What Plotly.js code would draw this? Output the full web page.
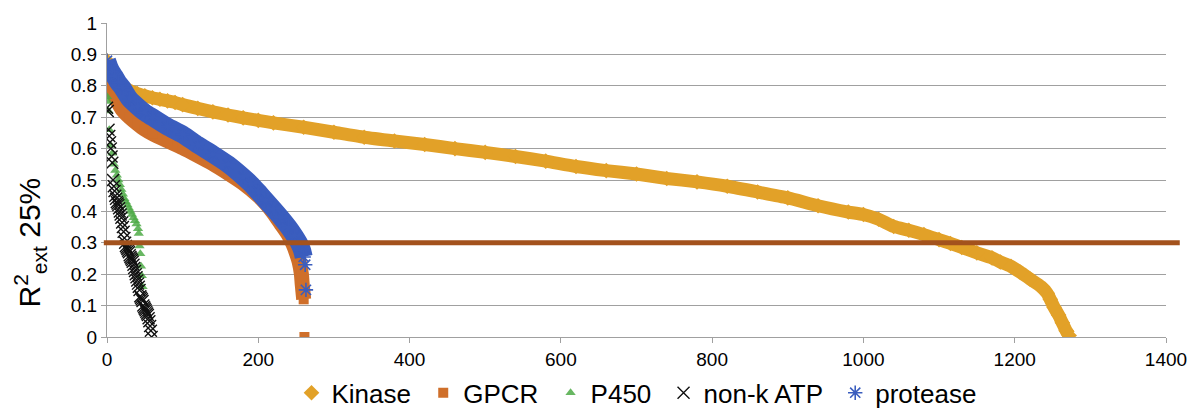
<!DOCTYPE html>
<html><head><meta charset="utf-8">
<script src="https://cdn.plot.ly/plotly-3.0.1.min.js"></script>
<style>html,body{margin:0;padding:0;background:#fff;}#chart{width:1187px;height:410px;}</style>
</head><body><div id="chart"></div>
<script>
// Series: rank (x) vs R2ext 25% (y)
const kinaseX = [0,3,6,10,15,20,30,40,50,60,70,80,90,100,120,140,160,180,200,220,260,300,340,380,420,460,500,540,580,620,660,700,740,780,820,860,900,940,980,1000,1020,1040,1060,1080,1100,1115,1130,1150,1170,1181,1195,1207,1220,1235,1243,1247,1252,1258,1263,1268,1272];
const kinaseY = [0.88,0.86,0.84,0.82,0.805,0.795,0.785,0.775,0.768,0.762,0.757,0.752,0.747,0.740,0.728,0.717,0.707,0.698,0.690,0.682,0.668,0.652,0.636,0.624,0.613,0.600,0.588,0.575,0.560,0.543,0.530,0.519,0.505,0.494,0.480,0.462,0.443,0.418,0.398,0.390,0.375,0.352,0.340,0.326,0.310,0.298,0.285,0.268,0.252,0.239,0.225,0.207,0.185,0.160,0.139,0.12,0.095,0.07,0.045,0.02,0.005];

const gpcrX = [0,3,6,10,15,20,30,40,50,60,80,100,120,140,160,180,200,210,220,230,240,246,250,254,257,258,259,260,261];
const gpcrY = [0.86,0.83,0.80,0.77,0.745,0.725,0.70,0.68,0.662,0.648,0.625,0.603,0.578,0.552,0.522,0.49,0.45,0.425,0.395,0.36,0.325,0.295,0.27,0.24,0.20,0.17,0.145,0.12,0.0];

const p450X = [0,1,2,3,5,7,9,11,13,15,17,19,21,23,25,27,29,31,33,35,37,39,41,42,43,44,45,46,47];
const p450Y = [0.765,0.75,0.72,0.66,0.61,0.585,0.55,0.53,0.515,0.50,0.485,0.47,0.455,0.44,0.43,0.42,0.41,0.40,0.39,0.38,0.37,0.36,0.345,0.33,0.29,0.265,0.225,0.195,0.16];

const atpX = [0,1,2,3,4,5,6,7,8,9,10,11,12,13,14,15,16,17,18,19,20,21,22,23,24,25,26,27,28,29,30,31,32,33,34,35,36,37,38,39,40,41,42,43,44,45,46,47,48,49,50,51,52,53,54,55,56,57,58,59];
const atpY = [0.73,0.72,0.66,0.64,0.62,0.60,0.575,0.555,0.50,0.48,0.465,0.45,0.44,0.43,0.425,0.42,0.41,0.40,0.39,0.38,0.365,0.35,0.335,0.315,0.30,0.29,0.285,0.28,0.275,0.27,0.26,0.255,0.25,0.245,0.24,0.23,0.22,0.21,0.20,0.19,0.18,0.17,0.16,0.15,0.13,0.125,0.12,0.115,0.10,0.095,0.09,0.085,0.08,0.075,0.07,0.06,0.05,0.035,0.02,0.0];

const protX = [0,3,6,10,15,20,30,40,50,60,80,100,120,140,160,180,190,200,210,220,230,240,248,254,258,260,262,263];
const protY = [0.88,0.86,0.845,0.83,0.81,0.795,0.758,0.735,0.715,0.70,0.67,0.645,0.612,0.582,0.55,0.51,0.488,0.462,0.435,0.408,0.38,0.35,0.322,0.298,0.275,0.255,0.23,0.15];

const seriesNames = ['Kinase','GPCR','P450','non-k ATP','protease'];
const threshold = 0.3;

const cKin = '#E2A128', cGp = '#CF6F2A', cP4 = '#4DAA47', cAtp = '#111111', cPr = '#3A5DBE';
const pad = '\u00a0';

function band(x, y, color, w) {
  return {x: x, y: y, type: 'scatter', mode: 'lines', line: {color: color, width: w, shape: 'spline', smoothing: 0.6},
          showlegend: false, hoverinfo: 'skip'};
}

const traces = [
  band(kinaseX, kinaseY, cKin, 13),
  {x: kinaseX, y: kinaseY, name: seriesNames[0] + pad, type: 'scatter', mode: 'markers',
   marker: {symbol: 'diamond', size: 12, color: cKin}},
  band(gpcrX.slice(0, -1), gpcrY.slice(0, -1), cGp, 15),
  {x: gpcrX, y: gpcrY, name: seriesNames[1] + pad, type: 'scatter', mode: 'markers',
   marker: {symbol: 'square', size: 10, color: cGp}},
  {x: p450X, y: p450Y, name: seriesNames[2] + pad, type: 'scatter', mode: 'markers',
   marker: {symbol: 'triangle-up', size: 9, color: cP4, opacity: 0.85}},
  {x: atpX, y: atpY, name: seriesNames[3] + pad, type: 'scatter', mode: 'markers',
   marker: {symbol: 'x-thin-open', size: 12, color: cAtp, line: {color: cAtp, width: 1.4}}},
  band(protX.slice(0, -2), protY.slice(0, -2), cPr, 18),
  {x: protX, y: protY, name: seriesNames[4], type: 'scatter', mode: 'markers',
   marker: {symbol: 'asterisk-open', size: 12, color: cPr, line: {color: cPr, width: 1.6}}}
];

const layout = {
  width: 1187, height: 410,
  margin: {l: 107, r: 21, t: 23, b: 73, autoexpand: false},
  paper_bgcolor: '#fff', plot_bgcolor: '#fff',
  font: {family: 'Liberation Sans, Arial, sans-serif', color: '#000'},
  xaxis: {range: [0, 1400], dtick: 200, tick0: 0, showgrid: false, zeroline: false,
          showline: true, linecolor: '#a0a0a0', linewidth: 1, ticklabeloverflow: 'allow',
          ticks: 'outside', ticklen: 5, tickcolor: '#a0a0a0', tickfont: {size: 19}},
  yaxis: {range: [0, 1], dtick: 0.1, tick0: 0, showgrid: true, gridcolor: '#a0a0a0', gridwidth: 1,
          zeroline: false, showline: true, linecolor: '#a0a0a0', linewidth: 1,
          ticks: 'outside', ticklen: 5, tickcolor: '#a0a0a0', tickfont: {size: 19}},
  showlegend: true,
  legend: {orientation: 'h', x: 0.5, xanchor: 'center', yref: 'container', y: 0.042, yanchor: 'middle',
           font: {size: 26}, bgcolor: 'rgba(0,0,0,0)', itemwidth: 30, tracegroupgap: 0},
  shapes: [{type: 'line', xref: 'paper', yref: 'y', x0: -0.003, x1: 1.013, y0: threshold, y1: threshold,
            line: {color: '#A3521D', width: 5}, layer: 'above'}],
  annotations: [{text: 'R<sup>2</sup><sub>ext</sub> 25%', xref: 'paper', yref: 'paper', x: -0.073, y: 0.30,
                 xanchor: 'center', yanchor: 'middle', textangle: -90, showarrow: false, font: {size: 30}}]
};

Plotly.newPlot('chart', traces, layout, {displayModeBar: false, staticPlot: true});
</script>
</body></html>
